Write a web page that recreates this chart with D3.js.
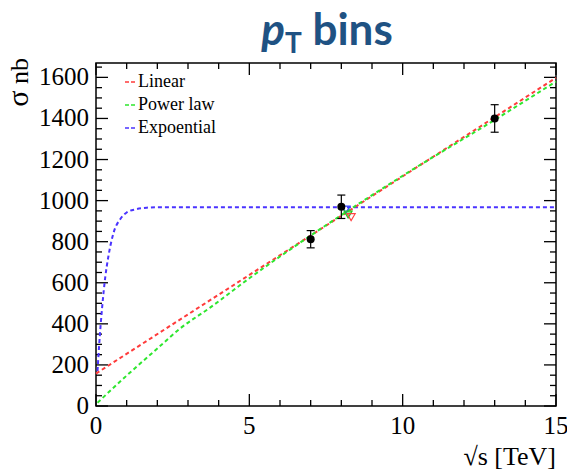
<!DOCTYPE html>
<html>
<head>
<meta charset="utf-8">
<title>pT bins</title>
<style>
  body { margin: 0; background: #fff; }
</style>
</head>
<body>
<div id="chart"></div>
<script src="https://cdn.jsdelivr.net/npm/d3@7"></script>
<script>
// measured cross sections
var energies = [7, 8, 13];
var sigma = [812, 970, 1400];
var sigmaErr = [42, 57, 67];

// fit curves
var linearX = [0, 15];
var linearY = [158, 1598];
var powerX = [0.05, 1, 2, 2.74, 3.72, 5, 7, 10, 13, 15];
var powerY = [16, 148, 280, 377, 479, 622, 830, 1121, 1393, 1580];
var expoX = [0.05, 0.1, 0.2, 0.3, 0.4, 0.57, 0.8, 1.0, 1.3, 1.7, 2.0, 15];
var expoY = [170, 290, 480, 625, 725, 842, 912, 942, 958, 966, 968, 968];

// model predictions at 8 TeV (small markers)
var predX = [8.15, 8.22, 8.32];
var predY = [962, 938, 925];
var predColor = ["#3344ff", "#22cc22", "#ff4444"];

var legendNames = ["Linear", "Power law", "Expoential"];
var legendColors = ["#ff3b3b", "#2ee62e", "#4a33ff"];

var xTicks = [0, 5, 10, 15];
var yTicks = [0, 200, 400, 600, 800, 1000, 1200, 1400, 1600];

var W = 567, H = 476;
var svg = d3.select("#chart").append("svg").attr("width", W).attr("height", H);

var x = d3.scaleLinear().domain([0, 15]).range([96, 556]);
var y = d3.scaleLinear().domain([0, 1670]).range([406, 63]);

var serif = "'Liberation Serif', 'DejaVu Serif', serif";

// title
var title = svg.append("text").attr("x", 327).attr("y", 45)
  .attr("text-anchor", "middle")
  .style("font-family", "Lato, 'Open Sans', sans-serif")
  .style("font-weight", "bold").style("font-size", "44px")
  .attr("fill", "#1f5283");
title.append("tspan").style("font-style", "italic").text("p");
title.append("tspan").attr("dy", 8).style("font-size", "28px").text("T");
title.append("tspan").attr("dy", -8).text(" bins");

// frame
svg.append("rect").attr("x", x(0)).attr("y", y(1670))
  .attr("width", x(15) - x(0)).attr("height", y(0) - y(1670))
  .attr("fill", "none").attr("stroke", "#000").attr("stroke-width", 1.5);

// ticks, inward on all four sides
var g = svg.append("g").attr("stroke", "#000").attr("stroke-width", 1.3);
d3.range(0, 16, 1).forEach(function(v) {
  var len = v % 5 === 0 ? 12 : 6;
  g.append("line").attr("x1", x(v)).attr("x2", x(v)).attr("y1", y(0)).attr("y2", y(0) - len);
  g.append("line").attr("x1", x(v)).attr("x2", x(v)).attr("y1", y(1670)).attr("y2", y(1670) + len);
});
d3.range(0, 1670, 50).forEach(function(v) {
  var len = v % 200 === 0 ? 12 : 6;
  g.append("line").attr("x1", x(0)).attr("x2", x(0) + len).attr("y1", y(v)).attr("y2", y(v));
  g.append("line").attr("x1", x(15)).attr("x2", x(15) - len).attr("y1", y(v)).attr("y2", y(v));
});

// tick labels
svg.selectAll(".xl").data(xTicks).enter().append("text")
  .attr("x", function(d) { return x(d); }).attr("y", 434)
  .attr("text-anchor", "middle")
  .style("font-family", serif).style("font-size", "25px")
  .text(function(d) { return d; });
svg.selectAll(".yl").data(yTicks).enter().append("text")
  .attr("x", 89).attr("y", function(d) { return y(d) + 8; })
  .attr("text-anchor", "end")
  .style("font-family", serif).style("font-size", "25px")
  .text(function(d) { return d; });

// axis titles
var yt = svg.append("text").attr("transform", "translate(28,58) rotate(-90)")
  .attr("text-anchor", "end")
  .style("font-family", serif).style("font-size", "26px");
yt.append("tspan").style("font-size", "30px").text("σ");
yt.append("tspan").text(" nb");
svg.append("text").attr("x", 556).attr("y", 465)
  .attr("text-anchor", "end")
  .style("font-family", serif).style("font-size", "26px")
  .text("√s [TeV]");

// fit lines
var line = d3.line().x(function(d) { return x(d[0]); }).y(function(d) { return y(d[1]); });
var curves = [
  { pts: d3.zip(expoX, expoY), color: legendColors[2], curve: d3.curveMonotoneX },
  { pts: d3.zip(linearX, linearY), color: legendColors[0], curve: d3.curveLinear },
  { pts: d3.zip(powerX, powerY), color: legendColors[1], curve: d3.curveMonotoneX }
];
curves.forEach(function(c) {
  svg.append("path").attr("d", line.curve(c.curve)(c.pts))
    .attr("fill", "none").attr("stroke", c.color).attr("stroke-width", 2)
    .attr("stroke-dasharray", "4,3");
});

// model markers near 8 TeV
var tri = d3.symbol().type(d3.symbolTriangle).size(28);
predX.forEach(function(px, i) {
  svg.append("path").attr("d", tri())
    .attr("transform", "translate(" + x(px) + "," + y(predY[i]) + ") rotate(180)")
    .attr("fill", i === 1 ? predColor[i] : "none").attr("fill-opacity", 0.5)
    .attr("stroke", predColor[i]).attr("stroke-width", 1.2);
});

// data points with error bars
var pts = svg.append("g");
energies.forEach(function(e, i) {
  var cx = x(e);
  pts.append("line").attr("x1", cx).attr("x2", cx)
    .attr("y1", y(sigma[i] - sigmaErr[i])).attr("y2", y(sigma[i] + sigmaErr[i]))
    .attr("stroke", "#000").attr("stroke-width", 1.2);
  [sigma[i] - sigmaErr[i], sigma[i] + sigmaErr[i]].forEach(function(v) {
    pts.append("line").attr("x1", cx - 4).attr("x2", cx + 4)
      .attr("y1", y(v)).attr("y2", y(v))
      .attr("stroke", "#000").attr("stroke-width", 1.2);
  });
  pts.append("circle").attr("cx", cx).attr("cy", y(sigma[i])).attr("r", 4).attr("fill", "#000");
});

// legend
legendNames.forEach(function(n, i) {
  var by = 87 + i * 23;
  svg.append("line").attr("x1", 125).attr("x2", 137)
    .attr("y1", by - 5).attr("y2", by - 5)
    .attr("stroke", legendColors[i]).attr("stroke-width", 1.5)
    .attr("stroke-dasharray", "4,2");
  svg.append("text").attr("x", 138).attr("y", by)
    .style("font-family", serif).style("font-size", "18px")
    .text(n);
});
</script>
</body>
</html>
